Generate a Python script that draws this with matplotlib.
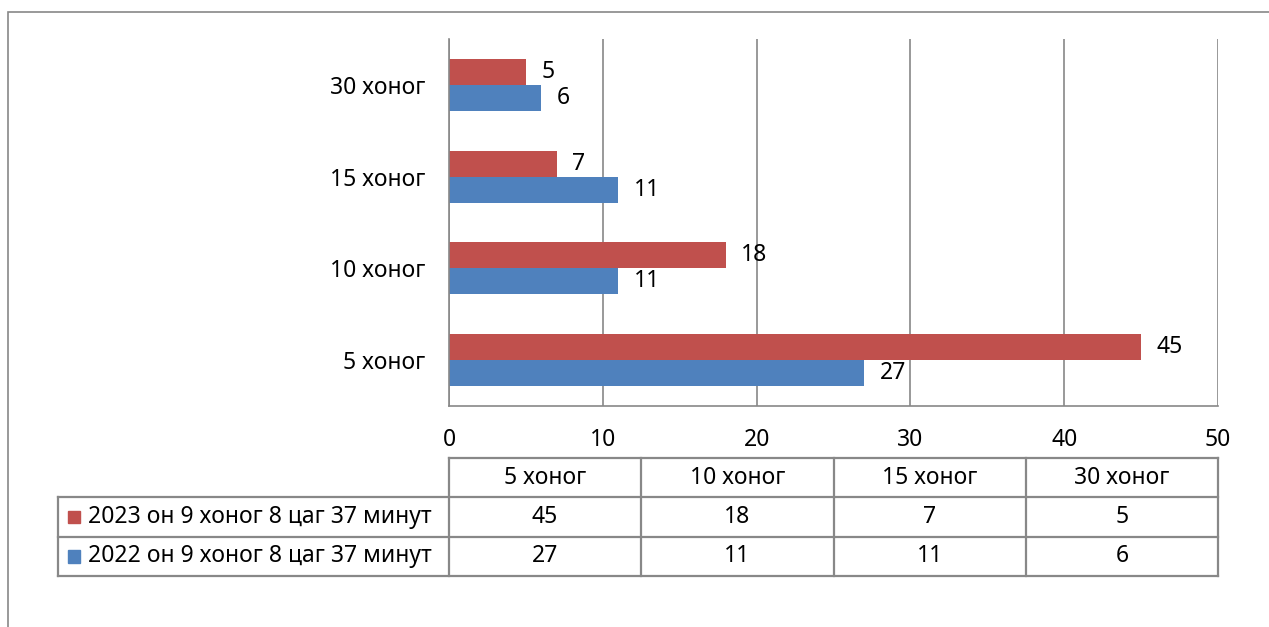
import matplotlib
matplotlib.use("Agg")
import matplotlib.pyplot as plt
from matplotlib.patches import Rectangle
import numpy as np

plt.rcParams["font.family"] = ["Noto Sans", "DejaVu Sans"]

# data
categories = ["5 хоног", "10 хоног", "15 хоног", "30 хоног"]
series_names = ["2023 он 9 хоног 8 цаг 37 минут", "2022 он 9 хоног 8 цаг 37 минут"]
values_2023 = [45, 18, 7, 5]
values_2022 = [27, 11, 11, 6]
colors = ["#C0504D", "#4F81BD"]
x_ticks = [0, 10, 20, 30, 40, 50]

W, H = 1269, 627
FS = 16.5
fig = plt.figure(figsize=(W / 100, H / 100), dpi=100)

# outer chart border (runs off the bottom/right edge)
fig.patches.append(Rectangle((8 / W, -0.05), 1.2, 1 - 12 / H + 0.05,
                             transform=fig.transFigure, fill=False,
                             edgecolor="#888888", linewidth=1.2))

ax = fig.add_axes([449 / W, 1 - 406 / H, (1218 - 449) / W, (406 - 39) / H])
y = np.arange(len(categories))
h = 0.283
ax.barh(y + h / 2, values_2023, height=h, color=colors[0])
ax.barh(y - h / 2, values_2022, height=h, color=colors[1])

for yi, v in zip(y, values_2023):
    ax.text(v + 1.0, yi + h / 2, str(v), va="center", ha="left", fontsize=FS)
for yi, v in zip(y, values_2022):
    ax.text(v + 1.0, yi - h / 2, str(v), va="center", ha="left", fontsize=FS)

ax.set_xlim(0, 50)
ax.set_ylim(-0.5, 3.5)
ax.set_xticks(x_ticks)
ax.set_xticklabels([str(t) for t in x_ticks], fontsize=FS)
ax.set_yticks(y)
ax.set_yticklabels(categories, fontsize=FS)
ax.tick_params(axis="y", length=0, pad=17)
ax.tick_params(axis="x", length=0, pad=16)
ax.grid(axis="x", color="#888888", linewidth=1.2)
ax.set_axisbelow(True)
for s in ["top", "right"]:
    ax.spines[s].set_visible(False)
for s in ["left", "bottom"]:
    ax.spines[s].set_color("#888888")
    ax.spines[s].set_linewidth(1.2)

# data table under the chart
label_w = (449 - 58) / ((1218 - 449) / 50)
tax = fig.add_axes([58 / W, 1 - 576 / H, (1218 - 58) / W, (576 - 458) / H])
tax.set_xlim(-label_w, 50)
tax.set_ylim(0, 3)
tax.axis("off")
col_w = 50 / len(categories)
lc = "#888888"
lw = 1.6
tax.plot([0, 50], [3, 3], color=lc, lw=lw, clip_on=False)
for i in range(len(categories) + 1):
    tax.plot([i * col_w, i * col_w], [0, 3], color=lc, lw=lw, clip_on=False)
for yl in [0, 1, 2]:
    tax.plot([-label_w, 50], [yl, yl], color=lc, lw=lw, clip_on=False)
tax.plot([-label_w, -label_w], [0, 2], color=lc, lw=lw, clip_on=False)
for i, c in enumerate(categories):
    tax.text((i + 0.5) * col_w, 2.5, c, ha="center", va="center", fontsize=FS)
rows = [values_2023, values_2022]
for r, (name, vals, col) in enumerate(zip(series_names, rows, colors)):
    yc = 1.5 - r
    tax.add_patch(Rectangle((-label_w + 0.65, yc - 0.16), 0.78, 0.32,
                            color=col, clip_on=False))
    tax.text(-label_w + 1.95, yc, name, ha="left", va="center", fontsize=FS)
    for i, v in enumerate(vals):
        tax.text((i + 0.5) * col_w, yc, str(v), ha="center", va="center", fontsize=FS)

fig.savefig("out.png", dpi=100)
